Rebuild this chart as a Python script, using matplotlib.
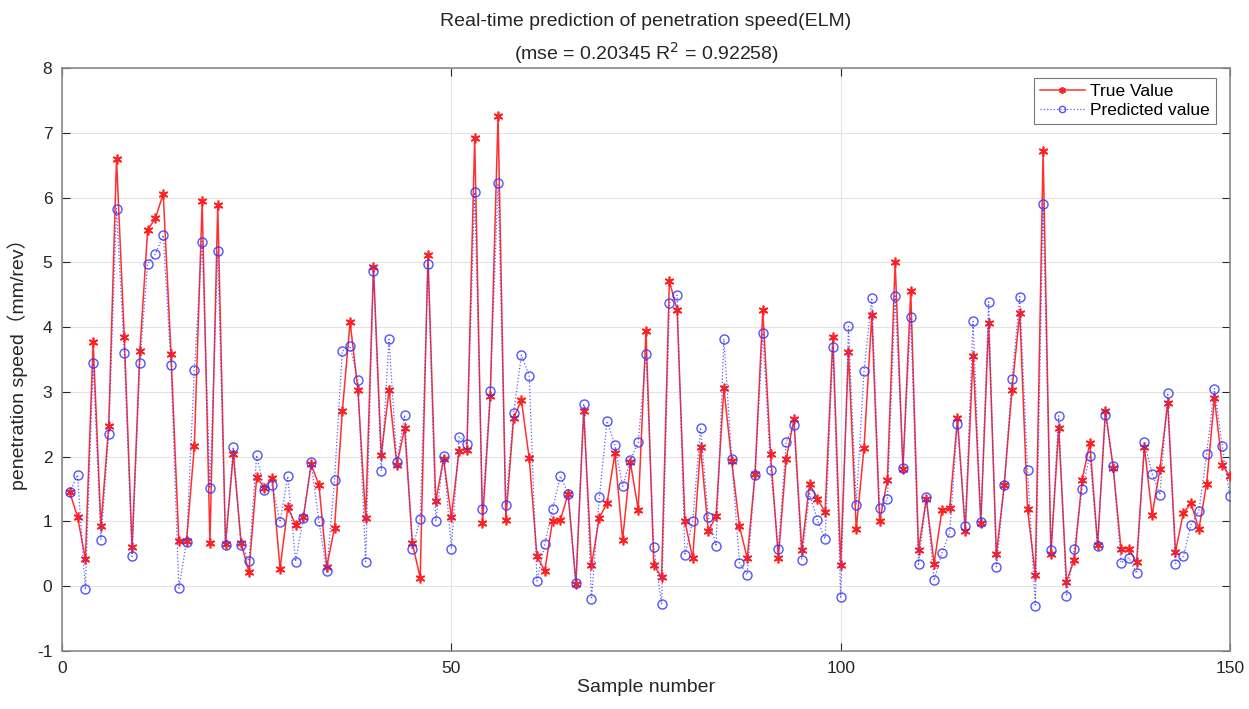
import matplotlib
matplotlib.use("Agg")
import matplotlib.pyplot as plt
import numpy as np

true_vals = [1.45, 1.07, 0.42, 3.77, 0.93, 2.48, 6.60, 3.85, 0.60, 3.63,
             5.50, 5.68, 6.06, 3.59, 0.70, 0.70, 2.17, 5.94, 0.66, 5.89,
             0.65, 2.04, 0.67, 0.22, 1.68, 1.52, 1.67, 0.27, 1.22, 0.95,
             1.07, 1.88, 1.56, 0.30, 0.90, 2.70, 4.08, 3.03, 1.05, 4.93,
             2.03, 3.03, 1.87, 2.44, 0.66, 0.13, 5.12, 1.31, 1.97, 1.07,
             2.09, 2.11, 6.92, 0.97, 2.94, 7.26, 1.03, 2.60, 2.87, 1.98,
             0.46, 0.24, 1.01, 1.02, 1.43, 0.04, 2.70, 0.32, 1.06, 1.28,
             2.05, 0.72, 1.91, 1.18, 3.94, 0.33, 0.14, 4.71, 4.26, 1.00,
             0.43, 2.15, 0.85, 1.08, 3.06, 1.94, 0.93, 0.43, 1.73, 4.26,
             2.04, 0.44, 1.96, 2.58, 0.56, 1.58, 1.35, 1.15, 3.85, 0.33,
             3.62, 0.88, 2.14, 4.19, 1.00, 1.64, 5.00, 1.81, 4.56, 0.56,
             1.35, 0.35, 1.17, 1.20, 2.59, 0.86, 3.55, 0.97, 4.07, 0.49,
             1.56, 3.03, 4.22, 1.19, 0.18, 6.72, 0.49, 2.44, 0.07, 0.41,
             1.64, 2.21, 0.64, 2.71, 1.83, 0.58, 0.58, 0.37, 2.15, 1.10,
             1.81, 2.83, 0.53, 1.13, 1.28, 0.88, 1.58, 2.90, 1.87, 1.70]

pred_vals = [1.45, 1.72, -0.05, 3.44, 0.72, 2.35, 5.83, 3.60, 0.46, 3.45,
             4.98, 5.13, 5.42, 3.41, -0.03, 0.69, 3.34, 5.32, 1.51, 5.17,
             0.64, 2.15, 0.64, 0.39, 2.02, 1.48, 1.56, 0.99, 1.70, 0.38,
             1.06, 1.91, 1.00, 0.23, 1.64, 3.63, 3.71, 3.18, 0.38, 4.87,
             1.78, 3.81, 1.91, 2.64, 0.58, 1.04, 4.98, 1.00, 2.01, 0.58,
             2.31, 2.19, 6.08, 1.19, 3.02, 6.22, 1.26, 2.68, 3.57, 3.25,
             0.08, 0.65, 1.19, 1.70, 1.43, 0.05, 2.82, -0.20, 1.37, 2.55,
             2.18, 1.54, 1.95, 2.22, 3.59, 0.60, -0.28, 4.37, 4.49, 0.48,
             1.01, 2.45, 1.07, 0.62, 3.82, 1.97, 0.36, 0.18, 1.71, 3.91,
             1.80, 0.57, 2.23, 2.49, 0.41, 1.43, 1.02, 0.73, 3.70, -0.17,
             4.01, 1.26, 3.32, 4.45, 1.20, 1.34, 4.48, 1.83, 4.15, 0.34,
             1.37, 0.09, 0.51, 0.83, 2.50, 0.93, 4.09, 0.99, 4.39, 0.30,
             1.56, 3.20, 4.47, 1.80, -0.31, 5.90, 0.56, 2.63, -0.15, 0.57,
             1.50, 2.01, 0.62, 2.65, 1.86, 0.36, 0.44, 0.20, 2.22, 1.74,
             1.41, 2.98, 0.35, 0.46, 0.95, 1.16, 2.04, 3.05, 2.17, 1.39]

samples = np.arange(1, len(true_vals) + 1)
x_ticks = [0, 50, 100, 150]
y_ticks = [-1, 0, 1, 2, 3, 4, 5, 6, 7, 8]

fam = ['Liberation Sans', 'Noto Sans CJK SC', 'DejaVu Sans']
plt.rcParams['font.family'] = fam
plt.rcParams['axes.unicode_minus'] = False

fig = plt.figure(figsize=(12.49, 7.09), dpi=100)
ax = fig.add_axes([62/1249, 1-651/709, (1230-62)/1249, (651-68)/709])

ax.plot(samples, true_vals, color='#ff3030', linestyle='-', linewidth=1.1,
        marker=(6, 2, 0), markersize=7, markerfacecolor='#ff2020', markeredgecolor='#ff2020',
        markeredgewidth=1.2, label='True Value', zorder=3)
ax.plot(samples, pred_vals, color='#4040ff', linestyle=':', linewidth=0.9,
        marker='o', markersize=6.5, markerfacecolor='none', markeredgecolor='#3535ff',
        markeredgewidth=1.0, label='Predicted value', zorder=4, alpha=0.85)

ax.set_xlim(0, 150)
ax.set_ylim(-1, 8)
ax.set_xticks(x_ticks)
ax.set_yticks(y_ticks)
ax.grid(True, color='#e3e3e3', linewidth=0.8)
ax.set_axisbelow(True)
ax.tick_params(direction='in', length=6, top=True, right=True, labelsize=12.5,
               colors='#262626', pad=7)
for s in ax.spines.values():
    s.set_color('#8a8a8a')
    s.set_linewidth(1.2)

ax.set_xlabel('Sample number', fontsize=14, color='#262626', labelpad=2)
ax.set_ylabel('penetration speed（mm/rev）', fontsize=14, color='#262626', labelpad=6)
ax.set_title('Real-time prediction of penetration speed(ELM)\n(mse = 0.20345 R$^2$ = 0.92258)',
             fontsize=14, color='#262626', pad=6, linespacing=1.5)

leg = ax.legend(loc='upper right', fontsize=12.5, frameon=True, fancybox=False,
                borderpad=0.35, handlelength=2.6, handletextpad=0.3, labelspacing=0.25,
                markerscale=0.7, bbox_to_anchor=(0.9955, 0.9985))
leg.get_frame().set_edgecolor('#555555')
leg.get_frame().set_linewidth(0.8)

fig.savefig('out.png', dpi=100)
